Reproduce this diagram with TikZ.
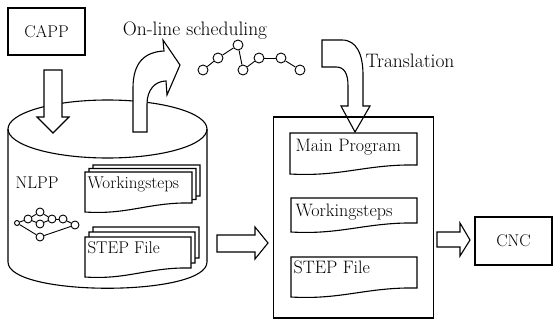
\documentclass[tikz,border=0pt]{standalone}
\usepackage{tikz}

% sheet with a wavy lower edge: left x, top y, width, height
\newcommand{\docsheet}[4]{%
  \draw[fill=white] (#1,#2) -- (#1+#3,#2) -- (#1+#3,#2+#4-9)
    .. controls (#1+0.6*#3,#2+#4-10) and (#1+0.4*#3,#2+#4+3) .. (#1,#2+#4) -- cycle;}

\begin{document}
\begin{tikzpicture}[x=1pt, y=-1pt, line width=1.1pt,
  every node/.style={font=\fontsize{17}{20}\selectfont, inner sep=0pt},
  label/.style={anchor=base west},
  proglabel/.style={anchor=base west, font=\fontsize{18}{21}\selectfont},
  biglabel/.style={font=\fontsize{19.5}{22}\selectfont},
  box/.style={draw, rectangle},
  dot/.style={draw, circle, minimum size=10pt, line width=0.9pt},
  smalldot/.style={draw, circle, minimum size=8pt, line width=0.9pt},
  blockarrow/.style={draw, fill=white, line join=miter}]
\useasboundingbox (0,0) rectangle (554,321);

% CAPP
\node[box, minimum width=77pt, minimum height=47pt] (capp) at (46.5,31.5) {CAPP};

% Cylinder (NLPP data base)
\draw (8,129) -- (8,262) .. controls (8,297) and (207,297) .. (207,262) -- (207,129);
\draw (107.5,129) ellipse [x radius=99.5pt, y radius=29pt];

% Arrow into the cylinder
\draw[blockarrow] (44,70) -- (62,70) -- (62,117) -- (69,117) -- (53,133)
  -- (37,117) -- (44,117) -- cycle;

% Curved arrow out to the scheduling
\draw[blockarrow] (133,132) -- (133,88) .. controls (133,62) and (145,52) .. (164,51)
  -- (163,40) -- (180,65) -- (167,95) -- (166,81)
  .. controls (155,81) and (147,90) .. (147,104) -- (147,132) -- cycle;

\node[biglabel] (sched) at (195,31) {On-line scheduling};

% Scheduling chain
\foreach \name/\pos in {s1/{(203,70)}, s2/{(218,58)}, s3/{(238,45)}, s4/{(243,70)},
                        s5/{(259,58)}, s6/{(281,58)}, s7/{(300,70)}}
  \node[dot] (\name) at \pos {};
\foreach \a/\b in {s1/s2, s2/s3, s3/s4, s4/s5, s5/s6, s6/s7}
  \draw[line width=0.9pt] (\a) -- (\b);

% NLPP and its graph
\node[label] (nlpp) at (15,188.5) {NLPP};
\node[smalldot, minimum size=5pt] (g0) at (17,223) {};
\foreach \name/\pos in {g1/{(28,219)}, g2/{(40,212)}, g3/{(40,224)}, g4/{(52,219)},
                        g5/{(63,219)}, g6/{(75,225)}, g7/{(40,237)}}
  \node[smalldot] (\name) at \pos {};
\foreach \a/\b in {g0/g1, g1/g2, g1/g3, g2/g4, g3/g4, g4/g5, g5/g6, g0/g7, g7/g6}
  \draw[line width=0.9pt] (\a) -- (\b);

% Sheets inside the cylinder
\docsheet{93}{165}{107}{40}
\docsheet{89}{168.5}{107}{40}
\docsheet{85}{172}{107}{40}
\node[label] (cylws) at (87,188.5) {Workingsteps};

\docsheet{93}{227}{106}{40}
\docsheet{89}{232}{106}{40}
\docsheet{85}{237}{106}{40}
\node[label] (cylstep) at (87,253) {STEP File};

% Translation arrow
\draw[blockarrow] (322,40) -- (342,40) .. controls (357,40) and (363,55) .. (363,75)
  -- (363,106) -- (370,106) -- (355,132) -- (341,106) -- (348,106) -- (348,86)
  .. controls (348,73) and (344,67) .. (336,67) -- (322,67) -- cycle;
\node[biglabel] (trans) at (410,61) {Translation};

% Program box
\node[box, minimum width=160pt, minimum height=201pt] (prog) at (353.5,217.5) {};
\docsheet{290}{133}{127}{41}
\node[proglabel] (main) at (295,151) {Main Program};
\docsheet{291}{198}{126}{34}
\node[proglabel] (progws) at (295,216.5) {Workingsteps};
\docsheet{291}{257}{126}{40}
\node[proglabel] (progstep) at (293,273.5) {STEP File};

% Arrow to the program box
\draw[blockarrow] (217,235) -- (255,235) -- (255,227) -- (268,243) -- (255,259)
  -- (255,252) -- (217,252) -- cycle;

% CNC
\draw[blockarrow] (437,232) -- (460,232) -- (460,223) -- (470,240) -- (460,256)
  -- (460,247) -- (437,247) -- cycle;
\node[box, minimum width=77pt, minimum height=48pt] (cnc) at (513.5,241) {CNC};

\end{tikzpicture}
\end{document}
